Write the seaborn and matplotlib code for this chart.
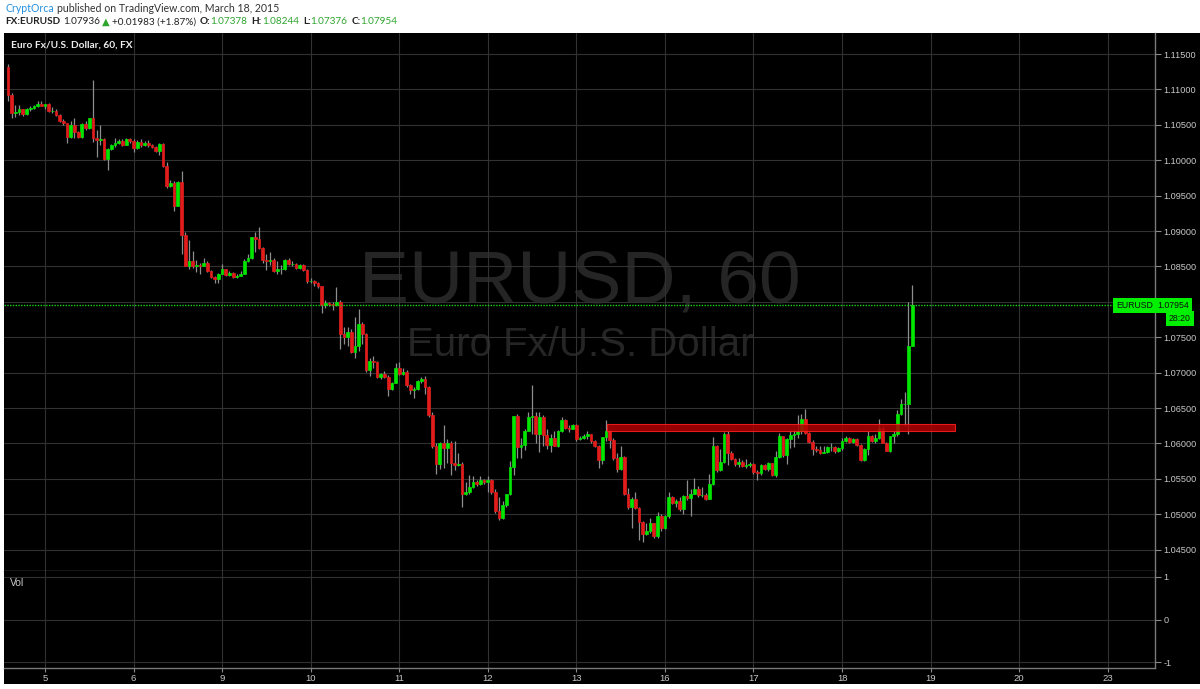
import numpy as np
import matplotlib
matplotlib.use('Agg')
from matplotlib import pyplot as plt
from matplotlib import transforms
from matplotlib.patches import Rectangle
import seaborn as sns

W, H = 1200, 689

# EURUSD hourly candles, index = trading hours from Mar 5 00:00 (first bar Mar 4 14:00)
first_hour = -10
first_open = 1.1132
closes = [
    1.1092, 1.1066, 1.1068, 1.1072, 1.1065, 1.1073, 1.1074, 1.1076, 1.1080, 1.1077,
    1.1079, 1.1069, 1.1070, 1.1064, 1.1055, 1.1052, 1.1033, 1.1050, 1.1040, 1.1033, 1.1051, 1.1045,
    1.1059, 1.1031, 1.1028, 1.1030, 1.1002, 1.1016, 1.1021, 1.1025, 1.1027, 1.1022, 1.1030, 1.1027,
    1.1017, 1.1026, 1.1021, 1.1025, 1.1021, 1.1019, 1.1013, 1.1023, 1.0992, 1.0963, 1.0968, 1.0936,
    1.0969, 1.0894, 1.0851, 1.0858, 1.0850, 1.0852, 1.0851, 1.0855, 1.0844, 1.0835, 1.0832, 1.0840,
    1.0846, 1.0838, 1.0841, 1.0835, 1.0837, 1.0840, 1.0858, 1.0862, 1.0891, 1.0889, 1.0876, 1.0859,
    1.0857, 1.0859, 1.0844, 1.0846, 1.0847, 1.0859, 1.0854, 1.0854, 1.0848, 1.0852, 1.0845, 1.0829,
    1.0829, 1.0826, 1.0822, 1.0796, 1.0798, 1.0797, 1.0796, 1.0800, 1.0755, 1.0750, 1.0757, 1.0729,
    1.0738, 1.0768, 1.0755, 1.0703, 1.0716, 1.0715, 1.0694, 1.0698, 1.0694, 1.0677, 1.0686, 1.0706,
    1.0698, 1.0701, 1.0682, 1.0675, 1.0677, 1.0688, 1.0691, 1.0680, 1.0640, 1.0597, 1.0571, 1.0601,
    1.0594, 1.0600, 1.0572, 1.0570, 1.0571, 1.0529, 1.0531, 1.0539, 1.0546, 1.0542, 1.0549, 1.0546,
    1.0548, 1.0531, 1.0504, 1.0494, 1.0513, 1.0528, 1.0567, 1.0639, 1.0595, 1.0598, 1.0617, 1.0638,
    1.0639, 1.0614, 1.0638, 1.0612, 1.0598, 1.0608, 1.0597, 1.0617, 1.0633, 1.0622, 1.0621, 1.0626,
    1.0606, 1.0608, 1.0610, 1.0613, 1.0603, 1.0597, 1.0576, 1.0609, 1.0617, 1.0605, 1.0579, 1.0564,
    1.0581, 1.0529, 1.0510, 1.0522, 1.0509, 1.0489, 1.0472, 1.0477, 1.0488, 1.0469, 1.0498, 1.0481,
    1.0497, 1.0525, 1.0516, 1.0518, 1.0507, 1.0526, 1.0523, 1.0529, 1.0535, 1.0527, 1.0527, 1.0522,
    1.0543, 1.0596, 1.0562, 1.0574, 1.0614, 1.0587, 1.0578, 1.0571, 1.0574, 1.0568, 1.0570, 1.0571,
    1.0559, 1.0558, 1.0570, 1.0564, 1.0572, 1.0556, 1.0581, 1.0610, 1.0583, 1.0606, 1.0612, 1.0614,
    1.0617, 1.0635, 1.0615, 1.0602, 1.0592, 1.0591, 1.0587, 1.0588, 1.0595, 1.0595, 1.0589, 1.0593,
    1.0604, 1.0607, 1.0602, 1.0606, 1.0598, 1.0577, 1.0592, 1.0611, 1.0604, 1.0608, 1.0622, 1.0600,
    1.0590, 1.0610, 1.0614, 1.0641, 1.0655, 1.0656, 1.07378, 1.07954,
]
highs = [
    1.1136, 1.1095, 1.1078, 1.1078, 1.1073, 1.1074, 1.1076, 1.1078, 1.1083, 1.1083,
    1.1080, 1.1081, 1.1075, 1.1072, 1.1065, 1.1058, 1.1053, 1.1055, 1.1059, 1.1041, 1.1052, 1.1056,
    1.1060, 1.1113, 1.1042, 1.1050, 1.1032, 1.1017, 1.1023, 1.1032, 1.1030, 1.1030, 1.1031, 1.1032,
    1.1030, 1.1028, 1.1030, 1.1027, 1.1029, 1.1023, 1.1020, 1.1024, 1.1024, 1.0998, 1.0972, 1.0970,
    1.0970, 1.0985, 1.0898, 1.0887, 1.0872, 1.0859, 1.0855, 1.0862, 1.0857, 1.0845, 1.0836, 1.0841,
    1.0854, 1.0847, 1.0843, 1.0842, 1.0839, 1.0843, 1.0860, 1.0868, 1.0892, 1.0898, 1.0905, 1.0877,
    1.0867, 1.0871, 1.0862, 1.0858, 1.0852, 1.0860, 1.0862, 1.0857, 1.0855, 1.0853, 1.0853, 1.0846,
    1.0833, 1.0831, 1.0828, 1.0823, 1.0802, 1.0800, 1.0800, 1.0821, 1.0802, 1.0765, 1.0764, 1.0761,
    1.0779, 1.0790, 1.0771, 1.0756, 1.0721, 1.0723, 1.0717, 1.0700, 1.0702, 1.0696, 1.0687, 1.0714,
    1.0715, 1.0706, 1.0703, 1.0684, 1.0680, 1.0689, 1.0694, 1.0695, 1.0681, 1.0645, 1.0600, 1.0602,
    1.0626, 1.0606, 1.0604, 1.0604, 1.0587, 1.0574, 1.0545, 1.0555, 1.0554, 1.0548, 1.0554, 1.0550,
    1.0554, 1.0550, 1.0536, 1.0524, 1.0519, 1.0529, 1.0575, 1.0639, 1.0641, 1.0607, 1.0621, 1.0645,
    1.0683, 1.0645, 1.0645, 1.0640, 1.0621, 1.0614, 1.0618, 1.0619, 1.0638, 1.0634, 1.0626, 1.0628,
    1.0627, 1.0611, 1.0613, 1.0618, 1.0614, 1.0605, 1.0598, 1.0609, 1.0633, 1.0619, 1.0607, 1.0587,
    1.0597, 1.0582, 1.0537, 1.0524, 1.0532, 1.0510, 1.0490, 1.0487, 1.0494, 1.0488, 1.0503, 1.0500,
    1.0499, 1.0532, 1.0526, 1.0522, 1.0524, 1.0527, 1.0548, 1.0536, 1.0551, 1.0540, 1.0539, 1.0530,
    1.0557, 1.0609, 1.0598, 1.0592, 1.0616, 1.0617, 1.0590, 1.0580, 1.0579, 1.0576, 1.0578, 1.0574,
    1.0573, 1.0563, 1.0571, 1.0571, 1.0574, 1.0573, 1.0590, 1.0615, 1.0611, 1.0607, 1.0619, 1.0619,
    1.0640, 1.0641, 1.0648, 1.0616, 1.0605, 1.0596, 1.0597, 1.0596, 1.0596, 1.0600, 1.0596, 1.0595,
    1.0607, 1.0611, 1.0609, 1.0608, 1.0607, 1.0599, 1.0594, 1.0617, 1.0612, 1.0614, 1.0634, 1.0624,
    1.0602, 1.0611, 1.0618, 1.0647, 1.0663, 1.0673, 1.0800, 1.08244,
]
lows = [
    1.1084, 1.1060, 1.1061, 1.1064, 1.1063, 1.1064, 1.1070, 1.1073, 1.1075, 1.1076,
    1.1072, 1.1068, 1.1067, 1.1063, 1.1054, 1.1050, 1.1025, 1.1031, 1.1032, 1.1031, 1.1032, 1.1043,
    1.1044, 1.1026, 1.1004, 1.1021, 1.1000, 1.0986, 1.1015, 1.1019, 1.1023, 1.1020, 1.1021, 1.1025,
    1.1012, 1.1016, 1.1019, 1.1020, 1.1019, 1.1017, 1.1011, 1.1008, 1.0990, 1.0961, 1.0962, 1.0928,
    1.0935, 1.0868, 1.0850, 1.0846, 1.0848, 1.0842, 1.0840, 1.0850, 1.0842, 1.0833, 1.0826, 1.0827,
    1.0839, 1.0836, 1.0837, 1.0834, 1.0833, 1.0836, 1.0839, 1.0856, 1.0860, 1.0871, 1.0875, 1.0855,
    1.0845, 1.0852, 1.0842, 1.0840, 1.0840, 1.0845, 1.0852, 1.0851, 1.0846, 1.0846, 1.0843, 1.0827,
    1.0826, 1.0823, 1.0820, 1.0784, 1.0791, 1.0794, 1.0788, 1.0794, 1.0734, 1.0740, 1.0737, 1.0728,
    1.0721, 1.0730, 1.0741, 1.0701, 1.0695, 1.0706, 1.0692, 1.0691, 1.0693, 1.0667, 1.0676, 1.0685,
    1.0697, 1.0696, 1.0680, 1.0670, 1.0664, 1.0675, 1.0686, 1.0670, 1.0637, 1.0594, 1.0557, 1.0564,
    1.0565, 1.0572, 1.0556, 1.0562, 1.0568, 1.0510, 1.0527, 1.0529, 1.0537, 1.0540, 1.0541, 1.0543,
    1.0532, 1.0529, 1.0502, 1.0492, 1.0493, 1.0510, 1.0527, 1.0555, 1.0579, 1.0579, 1.0591, 1.0617,
    1.0614, 1.0600, 1.0588, 1.0597, 1.0592, 1.0588, 1.0596, 1.0595, 1.0616, 1.0620, 1.0616, 1.0620,
    1.0604, 1.0605, 1.0606, 1.0606, 1.0601, 1.0595, 1.0565, 1.0571, 1.0603, 1.0593, 1.0577, 1.0560,
    1.0562, 1.0527, 1.0508, 1.0481, 1.0507, 1.0463, 1.0461, 1.0471, 1.0474, 1.0467, 1.0467, 1.0477,
    1.0479, 1.0495, 1.0514, 1.0510, 1.0505, 1.0500, 1.0520, 1.0498, 1.0528, 1.0524, 1.0525, 1.0520,
    1.0521, 1.0541, 1.0560, 1.0561, 1.0572, 1.0570, 1.0576, 1.0568, 1.0567, 1.0566, 1.0565, 1.0567,
    1.0557, 1.0549, 1.0556, 1.0562, 1.0561, 1.0554, 1.0552, 1.0580, 1.0581, 1.0571, 1.0594, 1.0595,
    1.0608, 1.0614, 1.0613, 1.0600, 1.0584, 1.0588, 1.0585, 1.0586, 1.0586, 1.0590, 1.0587, 1.0588,
    1.0591, 1.0602, 1.0600, 1.0600, 1.0596, 1.0575, 1.0575, 1.0583, 1.0602, 1.0601, 1.0606, 1.0600,
    1.0589, 1.0588, 1.0600, 1.0610, 1.0640, 1.0625, 1.0613, 1.07376,
]

day_pos = [0, 24, 48, 72, 96, 120, 144, 168, 192, 216, 240, 264, 288]
day_labels = ['5', '6', '9', '10', '11', '12', '13', '16', '17', '18', '19', '20', '23']
price_ticks = [1.045, 1.050, 1.055, 1.060, 1.065, 1.070, 1.075, 1.080,
               1.085, 1.090, 1.095, 1.100, 1.105, 1.110, 1.115]
vol_ticks = [-1, 0, 1]
last_price = 1.07954
countdown = '28:20'

# resistance zone drawn on the chart
zone_start, zone_end = 152.3, 246.6
zone_low, zone_high = 1.06172, 1.06268

header_user = 'CryptOrca'
header_rest = 'published on TradingView.com, March 18, 2015'
quote_parts = [
    ('FX:EURUSD', '#222222', 'bold'), ('1.07936', '#222222', 'normal'),
    ('\u25b2', '#2ea52e', 'normal'), ('+0.01983 (+1.87%)', '#222222', 'normal'),
    ('O:', '#222222', 'bold'), ('1.07378', '#2ea52e', 'normal'),
    ('H:', '#222222', 'bold'), ('1.08244', '#2ea52e', 'normal'),
    ('L:', '#222222', 'bold'), ('1.07376', '#2ea52e', 'normal'),
    ('C:', '#222222', 'bold'), ('1.07954', '#2ea52e', 'normal'),
]
quote_gaps = [3, 2, 2, 4, 0, 4, 0, 4, 0, 4, 0, 0]

sns.set_theme(style='dark', rc={'axes.facecolor': 'black', 'figure.facecolor': 'white',
                                'grid.color': '#323232', 'grid.linewidth': 0.8})
plt.rcParams['font.family'] = ['Liberation Sans', 'DejaVu Sans']

fig = plt.figure(figsize=(W / 100, H / 100), dpi=100)


def fx(px):
    return px / W


def fy(py):
    return 1 - py / H


bg = fig.add_axes([fx(4), fy(684), fx(1200) - fx(4), fy(33) - fy(684)])
bg.set_facecolor('black')
bg.set_xticks([])
bg.set_yticks([])
for s in bg.spines.values():
    s.set_visible(False)

ax = fig.add_axes([fx(4), fy(571), fx(1155) - fx(4), fy(33) - fy(571)])
vax = fig.add_axes([fx(4), fy(668), fx(1155) - fx(4), fy(571) - fy(668)])

x = np.arange(first_hour, first_hour + len(closes))
c = np.array(closes)
o = np.array([first_open] + closes[:-1])
h = np.array(highs)
l = np.array(lows)
up = c >= o

ax.vlines(x, l, h, color='#8e8e8e', lw=0.9, zorder=2)
ax.bar(x[up], c[up] - o[up], bottom=o[up], width=0.74, color='#00e600',
       edgecolor='#00e600', linewidth=0.5, zorder=3)
ax.bar(x[~up], o[~up] - c[~up], bottom=c[~up], width=0.74, color='#e21b1b',
       edgecolor='#e21b1b', linewidth=0.5, zorder=3)

ax.add_patch(Rectangle((zone_start, zone_low), zone_end - zone_start, zone_high - zone_low,
                       facecolor='#b00000', edgecolor='#ff2020', lw=0.8, alpha=0.85, zorder=4))
ax.axhline(last_price, color='#19d619', ls=(0, (1, 1)), lw=1, zorder=5)

xlim = (-11.1, 300.8)
for a in (ax, vax):
    a.set_facecolor('black')
    a.set_xlim(*xlim)
    a.set_xticks(day_pos)
    a.grid(True, color='#323232', lw=0.8)
    a.yaxis.tick_right()
    a.tick_params(axis='y', colors='#8a8a8a', labelcolor='#c8c8c8', labelsize=6.6,
                  length=4, width=0.8, direction='out', pad=2, right=True)
    for side in ('left', 'top'):
        a.spines[side].set_visible(False)
    for side in ('right', 'bottom'):
        a.spines[side].set_color('#7a7a7a')
        a.spines[side].set_linewidth(1)

ax.set_ylim(1.04198, 1.11797)
ax.set_yticks(price_ticks)
# the 1.08000 label sits under the last-price box
ax.set_yticklabels(['' if abs(p - last_price) < 0.001 else f'{p:.5f}' for p in price_ticks])
ax.tick_params(axis='x', length=0, labelbottom=False)

vax.set_ylim(-1.14, 1.14)
vax.set_yticks(vol_ticks)
vax.set_yticklabels([str(v) for v in vol_ticks])
vax.set_xticklabels(day_labels)
vax.tick_params(axis='x', colors='#8a8a8a', labelcolor='#c8c8c8', labelsize=6.8,
                length=3, width=0.8, direction='out', pad=1, bottom=True)
vax.text(0.005, 0.88, 'Vol', transform=vax.transAxes, color='#c8c8c8', fontsize=7.5,
         va='center', ha='left')

# watermark behind the candles
ax.text(fx(580), fy(303), 'EURUSD, 60', transform=fig.transFigure, fontsize=54,
        color='#252525', ha='center', va='baseline', zorder=0.5)
ax.text(fx(580), fy(356), 'Euro Fx/U.S. Dollar', transform=fig.transFigure, fontsize=29,
        color='#252525', ha='center', va='baseline', zorder=0.5)

ax.text(fx(11), fy(45), 'Euro Fx/U.S. Dollar, 60, FX', transform=fig.transFigure,
        fontsize=7.3, color='#eeeeee', ha='left', va='center', family=['Lato', 'DejaVu Sans'],
        fontweight='bold')

# price labels on the right axis
tr = transforms.blended_transform_factory(ax.transAxes, ax.transData)
box = dict(boxstyle='square,pad=0.35', facecolor='#00f000', edgecolor='none')
ax.text(1.0 + 2 / 1151, last_price, f'{last_price:.5f}', transform=tr, fontsize=6.3,
        color='#111111', ha='left', va='center', bbox=box, clip_on=False, zorder=10)
ax.text(1.0 - 2 / 1151, last_price, 'EURUSD', transform=tr, fontsize=6.3,
        color='#111111', ha='right', va='center', bbox=box, clip_on=False, zorder=10)
ax.annotate(countdown, xy=(1.0 + 25 / 1151, last_price), xycoords=tr,
            xytext=(0, -9.5), textcoords='offset points', fontsize=6.3, color='#111111',
            ha='center', va='center', bbox=box, annotation_clip=False, zorder=10)

# header lines, segments placed one after another
fig.canvas.draw()
renderer = fig.canvas.get_renderer()
hdr_font = ['Lato', 'DejaVu Sans']
t = fig.text(fx(5), fy(9), header_user, color='#2490dd', fontsize=7.6, family=hdr_font,
             ha='left', va='center')
xe = t.get_window_extent(renderer).x1 + 3
fig.text(xe / W, fy(9), header_rest, color='#333333', fontsize=7.6, family=hdr_font,
         ha='left', va='center')
xe = 5
for (s, col, wt), gap in zip(quote_parts, quote_gaps):
    t = fig.text(xe / W, fy(22), s, color=col, fontsize=7.2, fontweight=wt, family=hdr_font,
                 ha='left', va='center')
    xe = t.get_window_extent(renderer).x1 + gap

fig.savefig('out.png', dpi=100, facecolor=fig.get_facecolor())
